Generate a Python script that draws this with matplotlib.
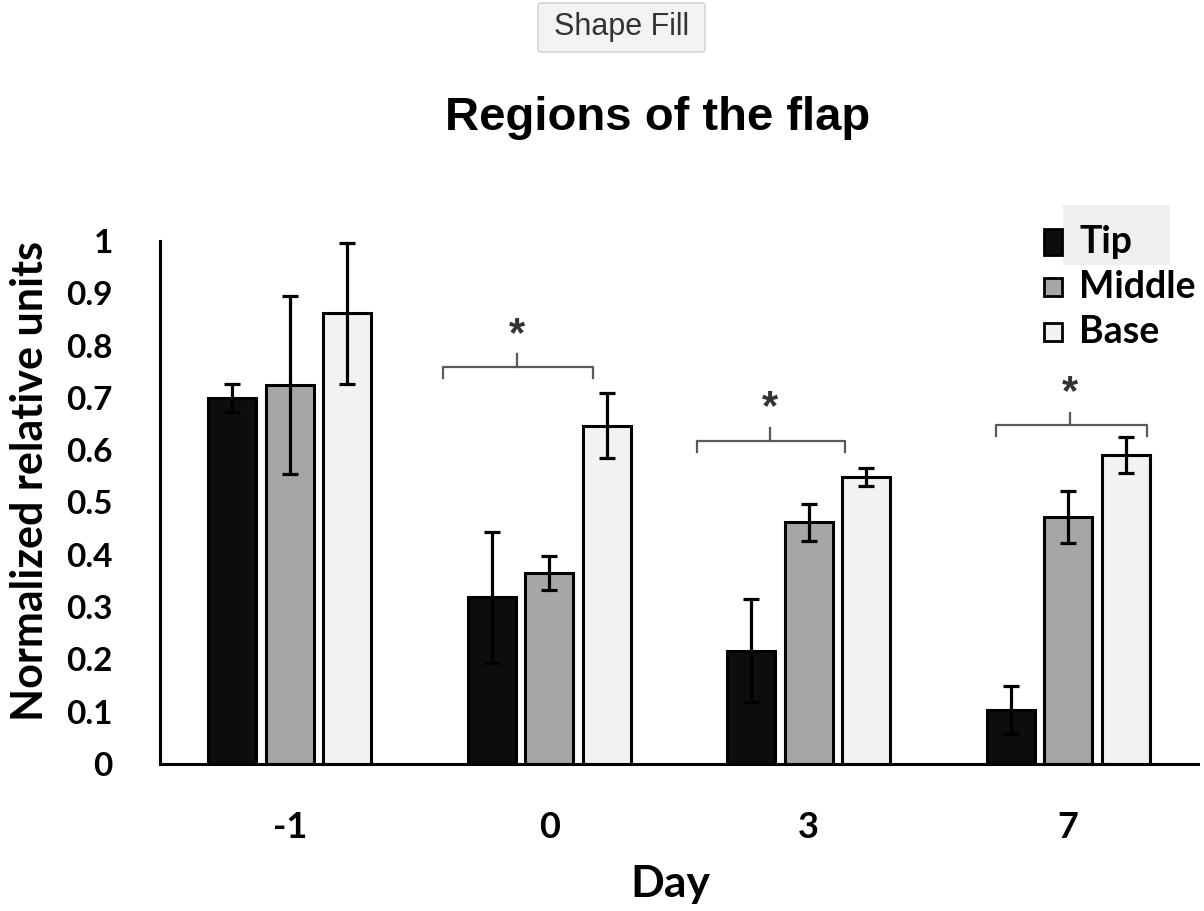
import numpy as np
import matplotlib
matplotlib.use('Agg')
import matplotlib.pyplot as plt
from matplotlib.patches import Rectangle, FancyBboxPatch

# data
days = ['-1', '0', '3', '7']
regions = ['Tip', 'Middle', 'Base']
tip = [0.700, 0.319, 0.217, 0.103]
tip_err = [0.027, 0.125, 0.099, 0.046]
middle = [0.724, 0.365, 0.462, 0.472]
middle_err = [0.170, 0.033, 0.035, 0.050]
base = [0.862, 0.647, 0.549, 0.591]
base_err = [0.135, 0.062, 0.017, 0.035]
colors = ['#0d0d0d', '#a6a6a6', '#f2f2f2']

# significance brackets: group index, left, right, centre (offsets from group), height
sig_group = [1, 2, 3]
sig_left = [-0.408, -0.431, -0.277]
sig_right = [0.169, 0.139, 0.304]
sig_mid = [-0.123, -0.150, 0.008]
sig_y = [0.759, 0.618, 0.648]

plt.rcParams['font.family'] = ['Lato', 'DejaVu Sans']
plt.rcParams['font.weight'] = 'bold'

W, H = 1204, 911
fig = plt.figure(figsize=(W / 100, H / 100), dpi=100)
ax = fig.add_axes([160 / W, 1 - 764 / H, 1038 / W, 523 / H])

x = np.arange(len(days))
width = 0.185
offset = 0.221
series = [(tip, tip_err), (middle, middle_err), (base, base_err)]
for i, (vals, errs) in enumerate(series):
    ax.bar(x + (i - 1) * offset, vals, width, color=colors[i], edgecolor='black',
           linewidth=2.2, zorder=2)
    ax.errorbar(x + (i - 1) * offset, vals, yerr=errs, fmt='none', ecolor='black',
                elinewidth=2.3, capsize=5.5, capthick=2.3, zorder=3, clip_on=False)

for g, l, r, m, y in zip(sig_group, sig_left, sig_right, sig_mid, sig_y):
    d = 0.021
    ax.plot([g + l, g + l, g + r, g + r], [y - d, y, y, y - d], color='#595959',
            lw=1.6, solid_joinstyle='round', clip_on=False)
    ax.plot([g + m, g + m], [y, y + 0.024], color='#595959', lw=1.6, clip_on=False)
    ax.text(g + m, y + 0.062, '*', ha='center', va='center', fontsize=30,
            family='Liberation Sans', fontweight='bold', color='#333333')

ax.set_xlim(-0.5, 3.5)
ax.set_ylim(0, 1)
ax.set_yticks(np.arange(0, 1.01, 0.1))
ax.set_yticklabels(['0'] + ['%.1f' % v for v in np.arange(0.1, 0.95, 0.1)] + ['1'])
ax.set_xticks(x)
ax.set_xticklabels(days)
ax.tick_params(axis='y', length=0, pad=34, labelsize=24)
ax.tick_params(axis='x', length=0, pad=34, labelsize=26)
for s in ['top', 'right']:
    ax.spines[s].set_visible(False)
for s in ['left', 'bottom']:
    ax.spines[s].set_linewidth(2.2)

fig.text(658 / W, 1 - 118 / H, 'Regions of the flap', ha='center', va='center',
         fontsize=34, family='Liberation Sans', fontweight='bold')
fig.text(30 / W, 1 - 481 / H, 'Normalized relative units', rotation=90,
         ha='center', va='center', fontsize=31)
fig.text(670 / W, 1 - 884 / H, 'Day', ha='center', va='center', fontsize=32)

# legend drawn by hand
fig.add_artist(Rectangle((1063 / W, 1 - 265 / H), 107 / W, 60 / H,
                         transform=fig.transFigure, color='#efefef', lw=0))
leg_y = [242, 287, 332]
leg_h = [26, 18, 18]
for name, c, yy, hh in zip(regions, colors, leg_y, leg_h):
    fig.add_artist(Rectangle((1044 / W, 1 - (yy + hh / 2) / H), 18 / W, hh / H,
                             transform=fig.transFigure, facecolor=c,
                             edgecolor='black', lw=2))
    fig.text(1079 / W, 1 - yy / H, name, ha='left', va='center', fontsize=27)

# "Shape Fill" button
fig.add_artist(FancyBboxPatch((538 / W, 1 - 52 / H), 167 / W, 49 / H,
                              boxstyle='round,pad=0,rounding_size=0.003',
                              transform=fig.transFigure, facecolor='#f3f3f3',
                              edgecolor='#d4d4d4', lw=1.2))
fig.text(622 / W, 1 - 27 / H, 'Shape Fill', ha='center', va='center',
         fontsize=22, family='Liberation Sans', fontweight='normal', color='#333333')

fig.savefig('out.png', dpi=100)
